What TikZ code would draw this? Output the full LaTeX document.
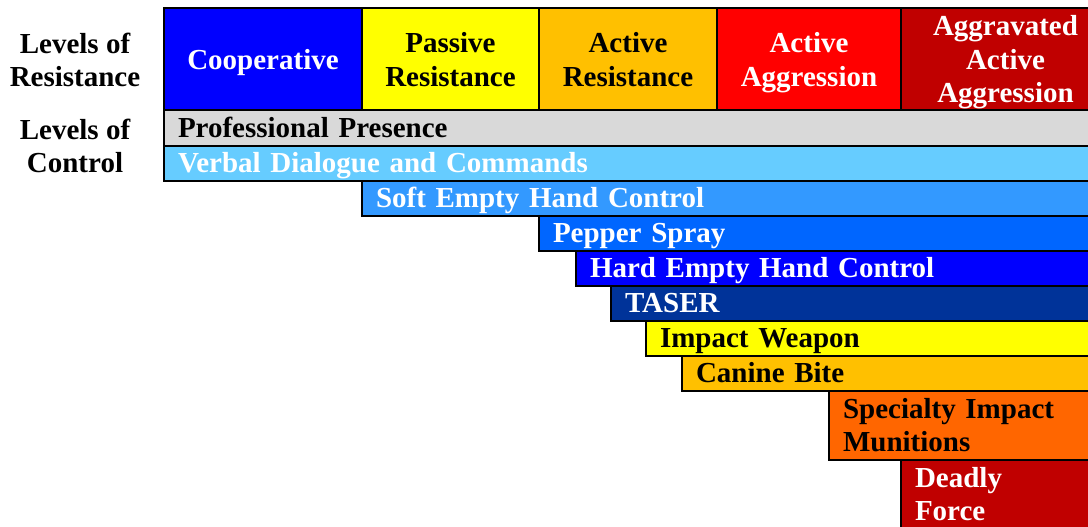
\documentclass[tikz,border=0pt]{standalone}
\usepackage{fontspec}
\setmainfont{Liberation Serif}
\usetikzlibrary{positioning}

\definecolor{coopblue}{HTML}{0000FF}
\definecolor{passyellow}{HTML}{FFFF00}
\definecolor{actorange}{HTML}{FFC000}
\definecolor{aggred}{HTML}{FF0000}
\definecolor{darkred}{HTML}{C00000}
\definecolor{presgray}{HTML}{D9D9D9}
\definecolor{verbblue}{HTML}{66CCFF}
\definecolor{softblue}{HTML}{3399FF}
\definecolor{pepperblue}{HTML}{0066FF}
\definecolor{taserblue}{HTML}{003399}
\definecolor{specorange}{HTML}{FF6600}

\begin{document}
\begin{tikzpicture}[x=1pt,y=-1pt,
    every node/.style={font=\fontsize{29}{33.5}\selectfont\bfseries,
        inner sep=0pt,outer sep=0pt},
    level/.style={align=center},
    cell/.style={draw,line width=2pt,align=center,minimum height=102.5pt,text depth=0pt},
    bar/.style={draw,line width=2pt,anchor=north west,align=left,
        inner xsep=14pt,minimum height=35pt,text height=19.7pt,text depth=0pt},
    tallbar/.style={draw,line width=2pt,anchor=north west,align=left,
        inner xsep=14pt,minimum height=69pt}]

    \useasboundingbox (0,0) rectangle (1088,527);

    % row titles
    \node[level] (resist) at (75,60) {Levels of\\Resistance};
    \node[level] (control) at (75,146) {Levels of\\Control};

    % levels of resistance
    \node[cell,anchor=north west,fill=coopblue,text=white,minimum width=198pt]
        (coop) at (164,8) {Cooperative};
    \node[cell,fill=passyellow,minimum width=177pt,right=0pt of coop]
        (pass) {Passive\\Resistance};
    \node[cell,fill=actorange,minimum width=178pt,right=0pt of pass]
        (act) {Active\\Resistance};
    \node[cell,fill=aggred,text=white,minimum width=184pt,right=0pt of act]
        (aggr) {Active\\Aggression};
    \node[cell,fill=darkred,text=white,minimum width=209pt,right=0pt of aggr]
        (aggrav) {Aggravated\\Active\\Aggression};

    % levels of control
    \node[bar,fill=presgray,text width=918pt] (pres) at (coop.south west)
        {Professional Presence};
    \node[bar,fill=verbblue,text=white,text width=918pt] (verb) at (pres.south west)
        {Verbal Dialogue and Commands};
    \node[bar,fill=softblue,text=white,text width=720pt] (soft) at (verb.south -| pass.west)
        {Soft Empty Hand Control};
    \node[bar,fill=pepperblue,text=white,text width=543pt] (pepper) at (soft.south -| act.west)
        {Pepper Spray};
    \node[bar,fill=coopblue,text=white,text width=506pt] (hard) at (pepper.south -| 576,0)
        {Hard Empty Hand Control};
    \node[bar,fill=taserblue,text=white,text width=471pt] (taser) at (hard.south -| 611,0)
        {TASER};
    \node[bar,fill=passyellow,text width=436pt] (impact) at (taser.south -| 646,0)
        {Impact Weapon};
    \node[bar,fill=actorange,text width=400pt] (canine) at (impact.south -| 682,0)
        {Canine Bite};
    \node[tallbar,fill=specorange,text width=253pt] (special) at (canine.south -| 829,0)
        {Specialty Impact\\Munitions};
    \node[tallbar,fill=darkred,text=white,text width=181pt] (deadly) at (special.south -| aggrav.west)
        {Deadly\\Force};

\end{tikzpicture}
\end{document}
